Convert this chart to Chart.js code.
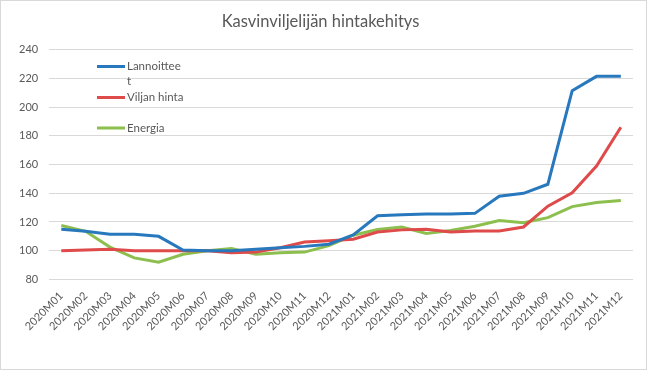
<!DOCTYPE html>
<html>
<head>
<meta charset="utf-8">
<script src="https://cdn.jsdelivr.net/npm/chart.js@4"></script>
<style>
  body { margin: 0; background: #fff; }
  .chart-box { position: relative; width: 647px; height: 370px; }
</style>
</head>
<body>
<div class="chart-box"><canvas id="priceChart"></canvas></div>
<script>
const months = [
  "2020M01", "2020M02", "2020M03", "2020M04", "2020M05", "2020M06",
  "2020M07", "2020M08", "2020M09", "2020M10", "2020M11", "2020M12",
  "2021M01", "2021M02", "2021M03", "2021M04", "2021M05", "2021M06",
  "2021M07", "2021M08", "2021M09", "2021M10", "2021M11", "2021M12"
];
const fertilizer = [115, 113.5, 111.5, 111.5, 110, 100.5, 100, 100, 101, 102, 103, 104.5,
  111, 124.3, 125, 125.5, 125.5, 126, 138, 140, 146.3, 211.5, 221.5, 221.5];
const grainPrice = [100, 100.5, 101, 100, 100, 100, 100, 98.5, 99, 102, 106, 107,
  108, 113, 114.5, 115, 113, 113.8, 113.8, 116.5, 131, 140.4, 159, 186];
const energy = [117.5, 113.5, 102.5, 95, 92, 97.5, 100, 101.5, 97.5, 98.5, 99, 103.5,
  110.8, 114.8, 116.5, 112, 114, 117, 121, 119.5, 123, 130.7, 133.5, 135];
const seriesNames = ["Lannoitteet", "Viljan hinta", "Energia"];
const seriesColors = ["#2878BD", "#DF4A4A", "#8CBF4E"];

const textColor = "#595959";
const fontFamily = "Lato, 'Open Sans', sans-serif";

// white background + thin outer frame
const frame = {
  id: "frame",
  beforeDraw(chart) {
    const ctx = chart.ctx;
    ctx.save();
    ctx.fillStyle = "#fff";
    ctx.fillRect(0, 0, chart.width, chart.height);
    ctx.strokeStyle = "#d9d9d9";
    ctx.lineWidth = 1;
    ctx.strokeRect(0.5, 0.5, chart.width - 1, chart.height - 1);
    ctx.restore();
  },
};

// legend drawn inside the plot, labels wrapped like in the original
const insideLegend = {
  id: "insideLegend",
  afterDraw(chart) {
    const ctx = chart.ctx;
    const rows = [66.5, 97.5, 128];
    ctx.save();
    ctx.font = "11.5px " + fontFamily;
    ctx.textBaseline = "middle";
    chart.data.datasets.forEach(function (ds, i) {
      const y = rows[i];
      ctx.strokeStyle = ds.borderColor;
      ctx.lineWidth = 3;
      ctx.beginPath();
      ctx.moveTo(97, y);
      ctx.lineTo(125, y);
      ctx.stroke();

      // char wrap
      const lines = [];
      let cur = "";
      for (const ch of ds.label) {
        if (cur && ctx.measureText(cur + ch).width > 57) {
          lines.push(cur);
          cur = ch;
        } else {
          cur += ch;
        }
      }
      lines.push(cur);
      ctx.fillStyle = textColor;
      lines.forEach(function (line, j) {
        ctx.fillText(line, 127, y + j * 15);
      });
    });
    ctx.restore();
  },
};

const ctx = document.getElementById("priceChart").getContext("2d");
new Chart(ctx, {
  type: "line",
  data: {
    labels: months,
    datasets: [fertilizer, grainPrice, energy].map(function (values, i) {
      return {
        label: seriesNames[i],
        data: values,
        borderColor: seriesColors[i],
        backgroundColor: seriesColors[i],
        borderWidth: 3,
        pointRadius: 0,
        tension: 0,
      };
    }),
  },
  options: {
    responsive: true,
    maintainAspectRatio: false,
    animation: false,
    layout: { padding: { left: 8, right: 14, top: 0, bottom: 35 } },
    plugins: {
      legend: { display: false },
      tooltip: { enabled: false },
      title: {
        display: true,
        text: "Kasvinviljelijän hintakehitys",
        color: textColor,
        font: { family: fontFamily, size: 16.5, weight: "normal" },
        padding: { top: 12, bottom: 18 },
      },
    },
    scales: {
      y: {
        min: 80,
        max: 240,
        ticks: {
          stepSize: 20,
          color: textColor,
          padding: 11,
          font: { family: fontFamily, size: 11 },
        },
        grid: { color: "#d9d9d9", drawTicks: false },
        border: { display: false },
      },
      x: {
        offset: true,
        ticks: {
          minRotation: 45,
          maxRotation: 45,
          autoSkip: false,
          color: textColor,
          padding: 2,
          font: { family: fontFamily, size: 11 },
        },
        grid: { display: false },
        border: { display: false },
      },
    },
  },
  plugins: [frame, insideLegend],
});
</script>
</body>
</html>
